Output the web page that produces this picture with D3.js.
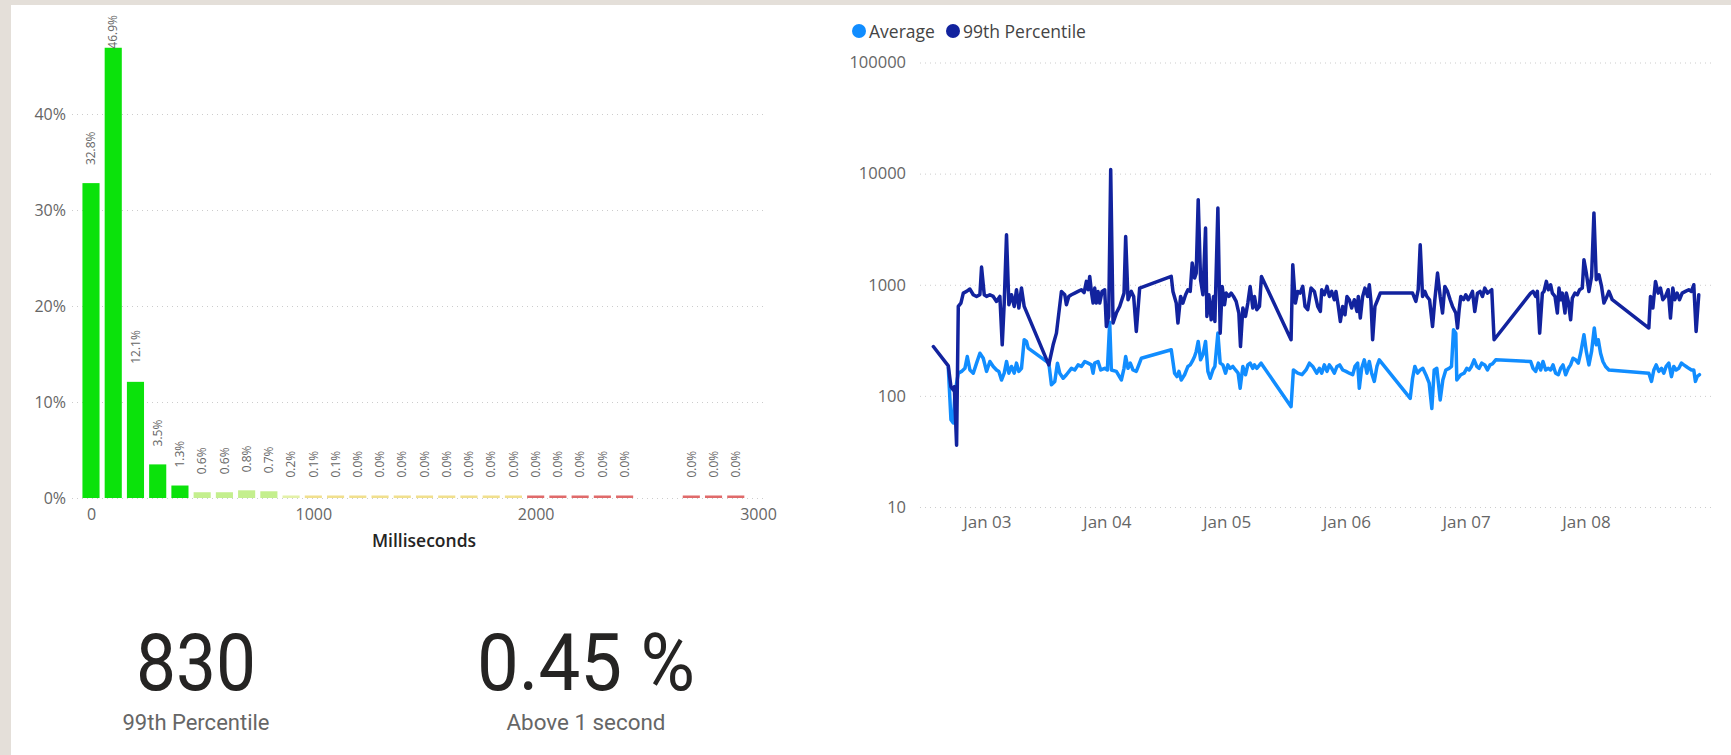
<!DOCTYPE html>
<html><head><meta charset="utf-8">
<script src="https://cdn.jsdelivr.net/npm/d3@7"></script>
<style>
html,body{margin:0;padding:0;background:#e4dfd9;overflow:hidden;}
svg{display:block;}
text{font-family:"Segoe UI","Open Sans",sans-serif;}
</style></head><body>
<svg id="c" width="1731" height="755"></svg>
<script>
// ---------- Histogram data ----------
const binStarts = [0,100,200,300,400,500,600,700,800,900,1000,1100,1200,1300,1400,1500,1600,1700,1800,1900,2000,2100,2200,2300,2400,2700,2800,2900];
const binPercent = [32.8,46.9,12.1,3.5,1.3,0.6,0.6,0.8,0.7,0.2,0.1,0.1,0.04,0.03,0.03,0.03,0.02,0.02,0.02,0.02,0.02,0.02,0.02,0.01,0.01,0.01,0.01,0.01];
const histYTicks = [0,10,20,30,40];
const histXTicks = [0,1000,2000,3000];
const histXTitle = "Milliseconds";

// ---------- Line chart data (hours after Jan 02 00:00, values in ms) ----------
const p99Hours = [
13.27,16.27,16.8,17.27,17.47,17.93,18.27,18.8,19.27,19.93,
20.6,21.27,21.93,22.6,22.93,23.47,23.93,24.6,25.27,25.93,
26.6,27.07,27.47,27.93,28.4,28.93,29.47,29.93,30.4,30.93,
31.47,36.4,37.27,37.93,38.93,39.6,39.93,40.4,40.93,41.6,
42.27,42.93,43.47,43.93,44.27,44.6,44.93,45.27,45.6,45.93,
46.27,46.6,47.07,47.6,47.93,48.4,48.8,49.27,49.93,50.6,
51.47,
51.8,52.27,52.93,53.4,53.93,54.6,60.93,61.27,61.93,62.27,
62.8,63.27,63.8,64.27,64.73,65.13,65.6,65.93,66.33,66.8,
67.27,67.8,68.07,68.47,68.93,69.4,69.67,70.27,70.73,71.13,
71.6,71.93,72.47,72.93,73.4,73.93,74.47,74.8,75.27,75.8,
76.27,76.73,77.27,77.6,78.07,78.6,79.0,84.93,85.27,85.8,
86.27,86.73,87.27,87.73,88.27,88.93,89.6,90.27,
90.8,91.07,91.6,92.13,92.6,93.07,93.6,93.93,94.4,94.8,
95.27,95.73,96.13,96.6,97.07,97.6,98.13,98.4,98.8,99.27,
99.73,100.27,100.6,100.93,101.27,101.73,102.27,102.8,109.27,109.93,
110.4,110.8,111.27,111.73,112.13,112.67,113.27,113.73,114.27,114.8,
115.27,115.73,116.27,116.8,117.27,117.93,118.27,118.6,118.93,119.47,
119.93,120.4,120.8,121.27,121.73,122.27,122.8,123.27,123.73,124.27,
124.73,125.13,125.6,
132.93,133.4,133.93,134.27,134.73,135.27,135.6,136.07,136.47,136.93,
137.27,137.8,138.27,138.6,138.93,139.27,139.8,140.07,140.47,140.93,
141.27,141.8,142.27,142.73,143.27,143.6,144.07,144.6,145.13,145.6,
146.07,146.6,147.13,147.6,148.07,148.6,149.27,156.6,156.93,157.4,
157.93,158.47,158.93,159.4,159.93,160.47,160.93,161.4,161.8,162.27,
162.73,163.27,163.93,164.6,165.13,165.6,166.07,166.6];
const p99Values = [
278,186,121,113,121,36,638,684,841,871,
915,813,785,813,1443,813,785,813,785,708,
785,288,684,2820,661,813,638,902,617,933,
638,190,288,367,871,813,661,785,813,841,
871,902,850,1072,902,1189,871,684,933,684,
871,684,871,902,421,519,10870,452,556,638,
841,
2720,733,871,785,380,933,1189,871,684,452,
785,684,813,902,871,1570,1148,1273,5830,1109,
813,3240,519,813,484,785,468,4910,367,966,
661,841,785,841,785,708,556,278,617,519,
684,966,617,785,596,638,1189,320,1514,684,
871,841,966,638,596,933,871,638,
575,902,813,966,785,871,733,871,638,468,
638,537,785,733,617,733,575,785,501,785,
933,785,1000,708,320,638,733,841,841,708,
902,2290,785,871,785,733,421,733,1273,785,
556,966,871,733,638,556,408,596,785,733,
813,733,785,871,575,841,871,785,933,841,
871,902,320,
841,871,785,871,367,841,871,1072,902,1000,
841,785,556,933,733,841,556,841,708,484,
759,841,813,902,933,1680,1273,871,1189,4430,
1109,1230,966,684,759,871,733,408,785,617,
1072,841,933,733,785,902,501,933,733,841,
733,841,871,902,871,1000,380,813];

const avgHours = [
16.27,16.8,17.27,17.6,18.27,18.93,19.6,20.07,20.6,
21.27,21.93,22.6,23.27,23.93,24.6,25.27,25.93,26.4,26.93,
27.47,27.93,28.4,28.93,29.47,29.93,30.4,30.93,31.47,31.93,
32.27,36.4,36.93,37.6,38.13,38.6,39.27,39.93,40.93,41.6,
42.27,42.93,43.6,44.27,44.93,45.27,45.6,46.27,46.8,47.6,
48.13,48.6,48.93,49.93,50.93,51.47,
51.8,52.27,52.73,53.27,53.93,54.93,60.93,61.6,62.07,62.47,
62.93,63.6,64.27,64.73,65.13,65.6,65.93,66.33,66.8,67.27,
67.8,68.27,68.73,69.27,69.67,70.27,70.73,71.27,71.8,72.27,
72.73,73.27,73.8,74.33,74.73,75.27,75.8,76.27,76.73,77.27,
77.6,78.07,78.93,84.93,85.4,86.27,87.13,87.93,88.6,89.27,
90.07,
90.6,91.07,91.6,92.13,92.6,93.07,93.6,94.13,94.67,95.27,
95.93,96.6,97.27,97.73,98.27,98.6,99.07,99.6,100.13,100.6,
101.07,101.6,102.13,102.6,108.8,109.27,109.73,110.27,110.8,111.33,
111.93,112.6,113.13,113.6,114.13,114.8,115.33,115.93,116.6,117.07,
117.47,117.93,118.13,118.93,119.6,120.13,120.6,121.07,121.6,122.13,
122.6,123.13,123.73,124.27,124.8,125.27,125.93,
132.93,133.4,133.93,134.47,134.93,135.4,135.93,136.47,136.93,137.4,
137.93,138.47,138.93,139.4,139.93,140.47,140.93,141.4,141.93,142.47,
142.93,143.6,144.07,144.6,145.13,145.67,146.07,146.47,146.93,147.4,
147.93,148.6,156.6,157.13,157.6,158.07,158.6,159.13,159.6,160.07,
160.6,161.13,161.6,162.07,162.6,163.13,163.6,164.07,164.6,165.13,
165.6,165.93,166.27,166.73];
const avgValues = [
180,61,57,106,160,166,177,226,171,
160,197,242,218,166,204,184,171,166,139,
160,204,160,184,160,197,166,177,320,309,
269,197,126,135,197,160,144,155,177,171,
190,184,204,197,190,160,197,204,171,177,
171,460,171,166,139,177,
226,177,197,171,166,218,260,160,149,166,
139,155,184,190,204,226,251,309,211,234,
309,166,144,171,184,367,197,190,160,190,
177,184,171,160,117,184,155,190,197,177,
190,177,197,80,171,160,155,171,197,184,
160,
177,160,190,166,190,177,160,184,190,171,
166,160,155,184,197,117,177,211,160,204,
160,135,184,211,95,144,184,160,171,177,
155,130,77,171,177,92,139,171,177,184,
393,367,139,155,160,177,171,184,211,184,
177,197,190,171,190,194,211,
204,177,166,197,171,204,171,177,171,190,
160,155,177,190,155,177,190,218,211,197,
242,355,251,190,251,408,288,320,242,204,
184,171,160,135,171,190,166,177,160,184,
197,149,184,171,177,197,190,184,177,171,
171,135,149,155];

const lineYTicks = [10,100,1000,10000,100000];
const lineDayTicks = ["2024-01-03","2024-01-04","2024-01-05","2024-01-06","2024-01-07","2024-01-08"];
const seriesNames = ["Average","99th Percentile"];
const seriesColors = ["#118DFF","#12239E"];

// ---------- Cards ----------
const cardValues = ["830","0.45 %"];
const cardLabels = ["99th Percentile","Above 1 second"];

// ---------- Drawing ----------
const svg = d3.select("#c");
svg.append("rect").attr("width",1731).attr("height",755).attr("fill","#e4dfd9");
svg.append("rect").attr("x",11).attr("y",5).attr("width",1720).attr("height",750).attr("fill","#ffffff");

const axisText = "#666666";

// Histogram
const xH = d3.scaleLinear().domain([0,3000]).range([91,758]);
const yH = d3.scaleLinear().domain([0,50]).range([498,18]);
const gH = svg.append("g");

const yAxH = gH.append("g").attr("transform","translate(72,0)")
  .call(d3.axisLeft(yH).tickValues(histYTicks).tickFormat(d=>d+"%").tickSize(-(763-72)).tickPadding(6));
yAxH.select(".domain").remove();
yAxH.selectAll(".tick line").attr("stroke","#cccccc").attr("stroke-dasharray","1,4");
yAxH.selectAll(".tick text").attr("fill",axisText).style("font-size","16px");

const xAxH = gH.append("g").attr("transform","translate(0,498)")
  .call(d3.axisBottom(xH).tickValues(histXTicks).tickFormat(d3.format("d")).tickSize(0).tickPadding(11));
xAxH.select(".domain").remove();
xAxH.selectAll(".tick text").attr("fill",axisText).style("font-size","16px");

gH.append("text").attr("x",424).attr("y",547).attr("text-anchor","middle")
  .attr("fill","#252423").style("font-size","17.5px").style("font-weight","600").text(histXTitle);

function binColor(ms){
  if(ms < 500) return "#0be20b";
  if(ms < 900) return "#c4ef8e";
  if(ms < 1000) return "#e4f1a8";
  if(ms < 2000) return "#f1e08e";
  return "#e06a6a";
}
const bw = (xH(100)-xH(0))*0.77;
const histData = binStarts.map((b,i)=>({b, v:binPercent[i]}));
gH.selectAll("rect.bar").data(histData).join("rect").attr("class","bar")
  .attr("x",d=>xH(d.b)-bw/2).attr("width",bw)
  .attr("y",d=>yH(0)-Math.max(yH(0)-yH(d.v),2.5))
  .attr("height",d=>Math.max(yH(0)-yH(d.v),2.5))
  .attr("fill",d=>binColor(d.b));

const fmtPct = d3.format(".1f");
gH.selectAll("text.lbl").data(histData).join("text").attr("class","lbl")
  .style("font-size","12px").attr("fill",axisText).attr("dy","0.35em")
  .text(d=>fmtPct(d.v)+"%")
  .each(function(d){
    const len = this.getComputedTextLength();
    const top = yH(0)-Math.max(yH(0)-yH(d.v),2.5);
    let end = top - 18;
    if(end - len < 15) end = 15 + len;
    d3.select(this).attr("transform",`translate(${xH(d.b)},${end}) rotate(-90)`);
  });

// Line chart
const base = Date.UTC(2024,0,2);
const toDate = h => new Date(base + h*3600e3);
const xL = d3.scaleUtc().domain([toDate(10.6),toDate(169.25)]).range([920,1712]);
const yL = d3.scaleLog().domain([10,100000]).range([507,62.5]);
const gL = svg.append("g");

const yAxL = gL.append("g").attr("transform","translate(920,0)")
  .call(d3.axisLeft(yL).tickValues(lineYTicks).tickFormat(d3.format("d")).tickSize(-(1712-920)).tickPadding(14));
yAxL.select(".domain").remove();
yAxL.selectAll(".tick line").attr("stroke","#cccccc").attr("stroke-dasharray","1,4");
yAxL.selectAll(".tick text").attr("fill",axisText).style("font-size","16.5px");

const xAxL = gL.append("g").attr("transform","translate(0,507)")
  .call(d3.axisBottom(xL).tickValues(lineDayTicks.map(s=>new Date(s+"T00:00:00Z"))).tickFormat(d3.utcFormat("%b %d")).tickSize(0).tickPadding(9));
xAxL.select(".domain").remove();
xAxL.selectAll(".tick text").attr("fill",axisText).style("font-size","17px");

const line = d3.line().x(d=>xL(d.t)).y(d=>yL(d.v)).curve(d3.curveLinear);
const avgData = avgHours.map((h,i)=>({t:toDate(h), v:avgValues[i]}));
const p99Data = p99Hours.map((h,i)=>({t:toDate(h), v:p99Values[i]}));
[avgData,p99Data].forEach((data,i)=>{
  gL.append("path").datum(data).attr("d",line).attr("fill","none")
    .attr("stroke",seriesColors[i]).attr("stroke-width",3.5)
    .attr("stroke-linejoin","round").attr("stroke-linecap","round");
});

// Legend
const legX = [859, 953];
seriesNames.forEach((n,i)=>{
  gL.append("circle").attr("cx",legX[i]).attr("cy",31).attr("r",7).attr("fill",seriesColors[i]);
  gL.append("text").attr("x",legX[i]+10).attr("y",37.5).attr("fill","#444444").style("font-size","17.5px").text(n);
});

// Cards
const cardX = [196, 586];
const cardValW = [120, 218];
const cardLblW = [147, 159];
cardValues.forEach((v,i)=>{
  svg.append("text").attr("x",cardX[i]).attr("y",690).attr("text-anchor","middle")
    .style("font-family","Roboto, sans-serif").style("font-size","80px").attr("fill","#252423")
    .attr("textLength",cardValW[i]).attr("lengthAdjust","spacingAndGlyphs").text(v);
  svg.append("text").attr("x",cardX[i]).attr("y",730).attr("text-anchor","middle")
    .style("font-family","Roboto, sans-serif").style("font-size","22px").attr("fill","#666666")
    .attr("textLength",cardLblW[i]).attr("lengthAdjust","spacingAndGlyphs").text(cardLabels[i]);
});
</script></body></html>
